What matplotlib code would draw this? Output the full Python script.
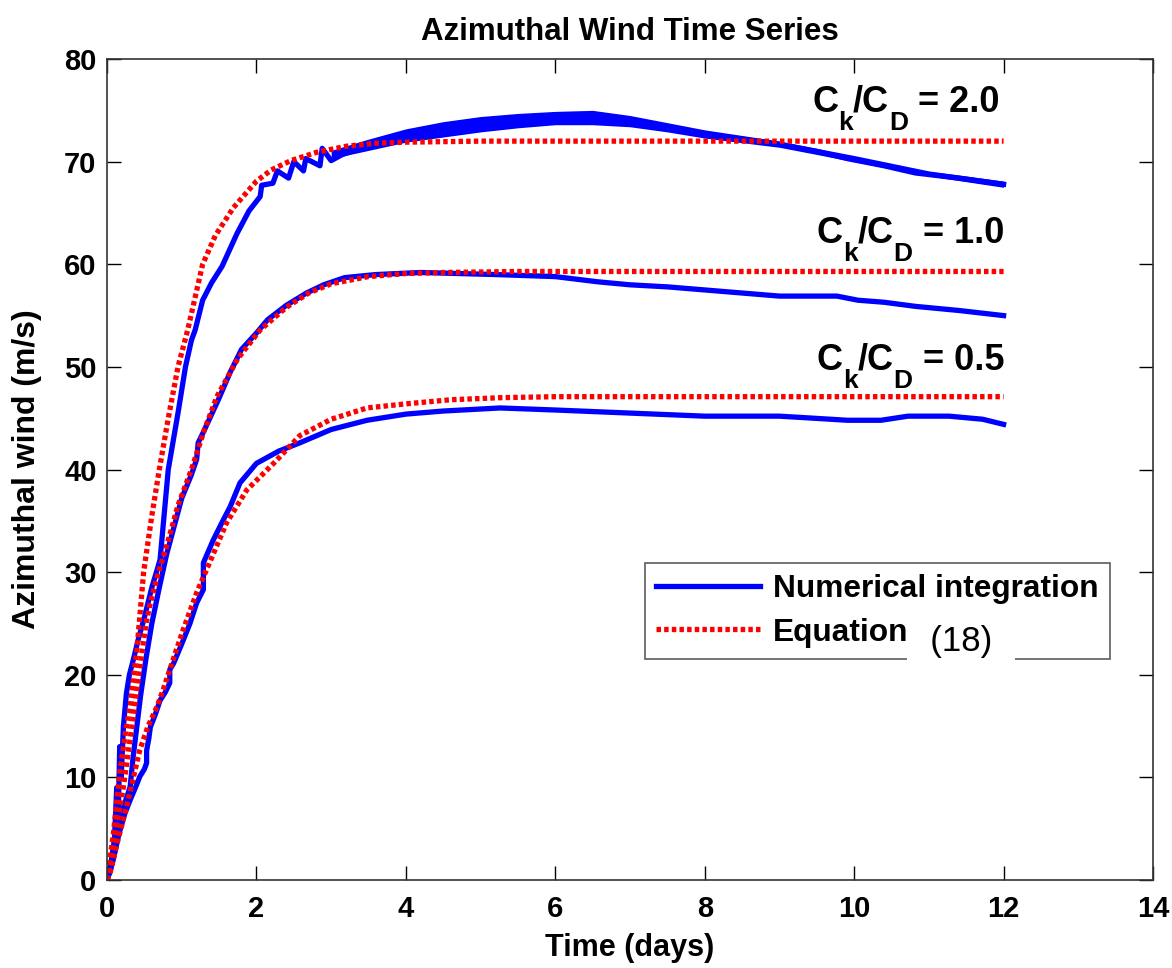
import numpy as np
import matplotlib
matplotlib.use("Agg")
import matplotlib.pyplot as plt
from matplotlib.font_manager import FontProperties

plt.rcParams['font.family'] = ['Liberation Sans', 'DejaVu Sans']

# Numerical integration, Ck/CD = 2.0
t_num_20 = [0, 0.05, 0.1, 0.13, 0.15, 0.17, 0.19, 0.22, 0.26, 0.3, 0.35, 0.42, 0.49, 0.6, 0.71,
            0.82, 0.95, 1.05, 1.13, 1.18, 1.28, 1.4, 1.54, 1.74, 1.9, 2.05, 2.07, 2.22, 2.28,
            2.43, 2.5, 2.63, 2.66, 2.85, 2.88, 3.0, 3.15, 3.5, 4.0, 4.5, 5.0, 5.5, 6.0, 6.3,
            6.6, 7.0, 7.5, 8.0, 8.5, 9.0, 9.5, 9.91, 10.4, 10.82, 11.4, 12.0]
v_num_20 = [0, 1.5, 4, 9, 6, 13, 10, 15, 18.2, 20, 21.4, 23.5, 25.3, 28.5, 31.2,
            40, 45.5, 50, 52.6, 53.6, 56.5, 58.2, 59.8, 63.0, 65.2, 66.6, 67.7, 67.9, 69.1,
            68.4, 70.0, 69.1, 70.3, 69.6, 71.3, 70.1, 70.7, 71.6, 72.5, 73.1, 73.6, 74.0, 74.2, 74.4,
            74.2, 73.9, 73.3, 72.7, 72.2, 71.7, 71.0, 70.3, 69.6, 68.9, 68.4, 67.8]

# spread of the fast oscillations on the Ck/CD = 2.0 run
t_band_20 = [3.0, 3.5, 4.0, 4.5, 5.0, 5.5, 6.0, 6.5, 7.0, 7.5, 8.0, 9.0, 10.0, 11.0, 12.0]
v_band_lo = [70.3, 71.1, 71.9, 72.4, 72.9, 73.3, 73.6, 73.6, 73.4, 72.9, 72.3, 71.4, 70.0, 68.6, 67.5]
v_band_hi = [71.1, 72.2, 73.2, 73.9, 74.4, 74.7, 74.9, 75.0, 74.5, 73.8, 73.1, 72.0, 70.6, 69.1, 68.1]

# Numerical integration, Ck/CD = 1.0
t_num_10 = [0, 0.05, 0.1, 0.16, 0.22, 0.28, 0.31, 0.35, 0.4, 0.45, 0.52, 0.6, 0.7, 0.8,
            0.9, 1.0, 1.13, 1.2, 1.22, 1.3, 1.49, 1.65, 1.8, 2.0, 2.15, 2.4, 2.67, 2.9,
            3.18, 3.6, 4.2, 5.2, 6.0, 6.56, 7.0, 7.5, 8.0, 8.5, 9.0, 9.77, 10.05, 10.4,
            10.82, 11.4, 12.0]
v_num_10 = [0, 1.2, 2.6, 5.0, 7.1, 8.4, 9.1, 12.0, 15.0, 18.0, 21.5, 25.0, 28.5, 31.8,
            34.5, 37.2, 39.5, 41.0, 42.6, 43.8, 46.8, 49.5, 51.7, 53.3, 54.6, 56.0, 57.2, 58.0,
            58.7, 59.0, 59.2, 59.0, 58.8, 58.3, 58.0, 57.8, 57.5, 57.2, 56.9, 56.9, 56.5, 56.3,
            55.9, 55.5, 55.0]

# Numerical integration, Ck/CD = 0.5
t_num_05 = [0, 0.04, 0.08, 0.16, 0.24, 0.31, 0.38, 0.44, 0.5, 0.53, 0.53, 0.56, 0.58, 0.65,
            0.71, 0.78, 0.84, 0.84, 0.89, 1.0, 1.11, 1.2, 1.29, 1.29, 1.42, 1.55, 1.65, 1.78,
            2.0, 2.3, 2.58, 3.0, 3.48, 4.0, 4.5, 5.26, 6.0, 7.0, 8.0, 9.0, 9.46, 9.91, 10.36,
            10.72, 11.27, 11.72, 12.0]
v_num_05 = [0, 0.8, 1.9, 4.5, 6.5, 7.8, 9.0, 10.1, 10.8, 11.4, 12.6, 13.8, 14.9, 16.2,
            17.5, 18.3, 19.2, 20.5, 21.1, 23.0, 25.0, 27.0, 28.3, 30.9, 33.1, 35.0, 36.4, 38.7,
            40.6, 41.8, 42.6, 43.9, 44.8, 45.4, 45.7, 46.0, 45.8, 45.5, 45.2, 45.2, 45.0, 44.8, 44.8,
            45.2, 45.2, 44.9, 44.4]

# Equation (18) curves
t_eq_20 = [0, 0.085, 0.17, 0.25, 0.31, 0.4, 0.49, 0.6, 0.7, 0.82, 0.95, 1.08, 1.28, 1.45, 1.69,
           2.0, 2.2, 2.46, 2.8, 3.2, 3.6, 4.0, 5.0, 12.0]
v_eq_20 = [0, 4.5, 10.4, 14.5, 16.9, 22.4, 30.0, 35.5, 40.0, 45.0, 50.0, 53.6, 60.0, 62.8, 65.5,
           68.1, 69.2, 70.1, 70.9, 71.5, 71.8, 71.9, 72.0, 72.0]
t_eq_10 = [0, 0.08, 0.22, 0.35, 0.44, 0.53, 0.58, 0.69, 0.8, 0.95, 1.13, 1.3, 1.47, 1.75,
           2.05, 2.4, 2.7, 3.0, 3.5, 4.0, 4.5, 5.5, 12.0]
v_eq_10 = [0, 3.2, 9.1, 15.9, 20.8, 25.3, 27.0, 30.0, 32.6, 36.5, 40.0, 43.8, 47.1, 50.8,
           53.6, 55.8, 57.2, 58.1, 58.8, 59.1, 59.2, 59.3, 59.3]
t_eq_05 = [0, 0.04, 0.15, 0.26, 0.35, 0.44, 0.55, 0.67, 0.75, 0.84, 1.02, 1.2, 1.33, 1.6,
           1.87, 2.23, 2.58, 3.0, 3.48, 4.0, 4.6, 5.26, 6.0, 12.0]
v_eq_05 = [0, 0.7, 4.0, 7.1, 9.9, 12.7, 15.0, 16.9, 18.5, 20.5, 24.4, 28.0, 30.2, 34.8,
           38.0, 40.6, 43.3, 44.9, 46.0, 46.4, 46.8, 47.0, 47.1, 47.1]

ratio_labels = ['2.0', '1.0', '0.5']
label_t = [9.44, 9.5, 9.5]
label_v = [74.85, 62.1, 49.7]

fig = plt.figure(figsize=(11.72, 9.68), dpi=100)
ax = fig.add_axes([0.0913, 0.0909, 0.8925, 0.8481])

blue = '#0000ff'
red = '#ff0000'
lw = 3.8
dots = (0, (0.85, 0.6))

ax.fill_between(t_band_20, v_band_lo, v_band_hi, color=blue, lw=0)
ax.plot(t_num_20, v_num_20, color=blue, lw=lw, label='Numerical integration')
ax.plot(t_num_10, v_num_10, color=blue, lw=lw)
ax.plot(t_num_05, v_num_05, color=blue, lw=lw)

ax.plot(t_eq_20, v_eq_20, color=red, lw=lw, ls=dots, dash_capstyle='butt', label='Equation')
ax.plot(t_eq_10, v_eq_10, color=red, lw=lw, ls=dots, dash_capstyle='butt')
ax.plot(t_eq_05, v_eq_05, color=red, lw=lw, ls=dots, dash_capstyle='butt')

# Ck/CD labels, built piece by piece so the subscripts sit low
renderer = fig.canvas.get_renderer()
main_fp = FontProperties(family='Liberation Sans', weight='bold', size=26)
sub_fp = FontProperties(family='Liberation Sans', weight='bold', size=19)
for lab, tx, vy in zip(ratio_labels, label_t, label_v):
    pieces = [('C', False), ('k', True), ('/C', False), ('D', True), (' = ' + lab, False)]
    x_off = 0.0
    for s, sub in pieces:
        fp = sub_fp if sub else main_fp
        ax.annotate(s, xy=(tx, vy), xycoords='data', xytext=(x_off, -13 if sub else 0),
                    textcoords='offset points', fontproperties=fp,
                    ha='left', va='baseline')
        w, h, d = renderer.get_text_width_height_descent(s, fp, ismath=False)
        x_off += w * 72.0 / fig.dpi
        if s.startswith(' '):
            x_off += 6

ax.set_xlim(0, 14)
ax.set_ylim(0, 80)
ax.set_xticks(range(0, 15, 2))
ax.set_yticks(range(0, 81, 10))
ax.tick_params(direction='in', length=10, width=1, top=True, right=True, labelsize=21)
ax.tick_params(axis='x', pad=11)
ax.tick_params(axis='y', pad=7.5)
for lbl in ax.get_xticklabels() + ax.get_yticklabels():
    lbl.set_fontweight('bold')
for sp in ax.spines.values():
    sp.set_linewidth(1.2)
    sp.set_color('#333333')

ax.set_title('Azimuthal Wind Time Series', fontsize=22.5, fontweight='bold', pad=14)
ax.set_xlabel('Time (days)', fontsize=22, fontweight='bold', labelpad=7)
ax.set_ylabel('Azimuthal wind (m/s)', fontsize=23, fontweight='bold')
ax.yaxis.set_label_coords(-0.062, 0.5)

leg = ax.legend(loc='upper left', bbox_to_anchor=(0.514, 0.386), frameon=True,
                fancybox=False, edgecolor='#333333', handlelength=3.3, handletextpad=0.4,
                borderpad=0.35, labelspacing=0.42, borderaxespad=0,
                prop={'weight': 'bold', 'size': 22.8})
leg.get_frame().set_linewidth(1.2)

ax.text(11.43, 23.2, '  (18)  ', fontsize=25, ha='center', va='center', zorder=10,
        bbox=dict(facecolor='white', edgecolor='none', pad=3))

fig.savefig('out.png', dpi=100)
